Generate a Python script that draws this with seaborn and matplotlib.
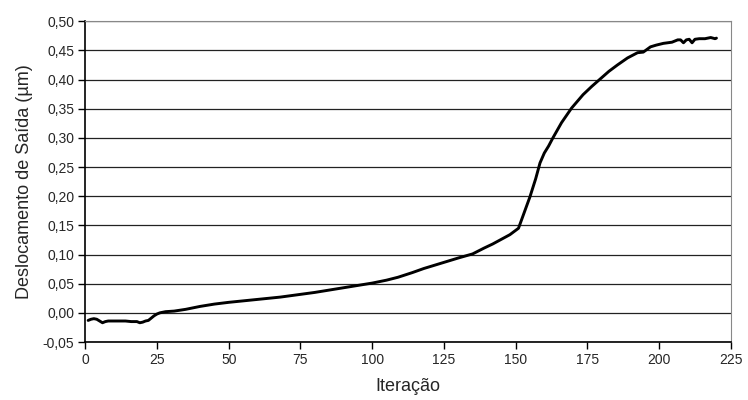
import matplotlib
matplotlib.use("Agg")
import matplotlib.pyplot as plt
import pandas as pd
import seaborn as sns
from matplotlib.ticker import FuncFormatter, MultipleLocator

# values
iteracao = [1, 2, 3, 4, 5, 6, 7, 8, 10, 12, 14, 16, 18, 19, 20, 21, 22, 23, 24,
            25, 26, 28, 31, 35, 40, 45, 50, 56, 62, 68, 74, 80, 85, 90, 95, 100,
            105, 109, 114, 118, 122, 126, 130, 135, 139, 142, 145, 148, 151,
            153, 155, 157, 158.5, 160, 161.5, 163, 166, 169.5, 173.5, 176.5,
            179.5, 182.5, 185.5, 189, 192.5, 194.5, 197, 199, 201.5, 204.5,
            206.5, 207.5, 208.5, 209.5, 210.5, 211.5, 212.5, 214, 216, 218,
            219.5, 220]
deslocamento = [-0.013, -0.011, -0.010, -0.011, -0.014, -0.017, -0.015, -0.014,
                -0.014, -0.014, -0.014, -0.015, -0.015, -0.017, -0.016, -0.014,
                -0.013, -0.009, -0.005, -0.002, 0.000, 0.002, 0.003, 0.006,
                0.011, 0.015, 0.018, 0.021, 0.024, 0.027, 0.031, 0.035, 0.039,
                0.043, 0.047, 0.051, 0.056, 0.061, 0.069, 0.076, 0.082, 0.088,
                0.094, 0.101, 0.111, 0.118, 0.126, 0.134, 0.145, 0.172, 0.199,
                0.230, 0.257, 0.274, 0.286, 0.300, 0.326, 0.351, 0.374, 0.388,
                0.401, 0.414, 0.425, 0.437, 0.446, 0.447, 0.456, 0.459, 0.462,
                0.464, 0.468, 0.468, 0.463, 0.468, 0.469, 0.463, 0.469, 0.470,
                0.470, 0.472, 0.470, 0.471]

df = pd.DataFrame({"Iteração": iteracao, "Deslocamento": deslocamento})

sns.set_style("white")
plt.rcParams["font.family"] = ["Liberation Sans", "DejaVu Sans"]

fig, ax = plt.subplots(figsize=(7.48, 4.0), dpi=100)
fig.subplots_adjust(left=0.114, right=0.977, top=0.947, bottom=0.145)

sns.lineplot(data=df, x="Iteração", y="Deslocamento", color="black",
             linewidth=2.1, ax=ax)

ax.set_xlim(0, 225)
ax.set_ylim(-0.05, 0.50)
ax.xaxis.set_major_locator(MultipleLocator(25))
ax.yaxis.set_major_locator(MultipleLocator(0.05))
ax.yaxis.set_major_formatter(FuncFormatter(lambda v, _: f"{v:.2f}".replace(".", ",").replace("-0,00", "0,00")))

ax.yaxis.grid(True, color="#222222", linewidth=0.9)
ax.set_axisbelow(True)

for side in ["left", "bottom"]:
    ax.spines[side].set_color("black")
    ax.spines[side].set_linewidth(1.2)
for side in ["top", "right"]:
    ax.spines[side].set_color("#888888")
    ax.spines[side].set_linewidth(0.8)

ax.tick_params(axis="both", direction="out", length=5, width=1, color="black",
               labelsize=10, pad=3, left=True, bottom=True)

ax.set_xlabel("Iteração", fontsize=13, labelpad=8)
ax.set_ylabel("Deslocamento de Saída (µm)", fontsize=13, labelpad=7)

fig.savefig("out.png", dpi=100)
